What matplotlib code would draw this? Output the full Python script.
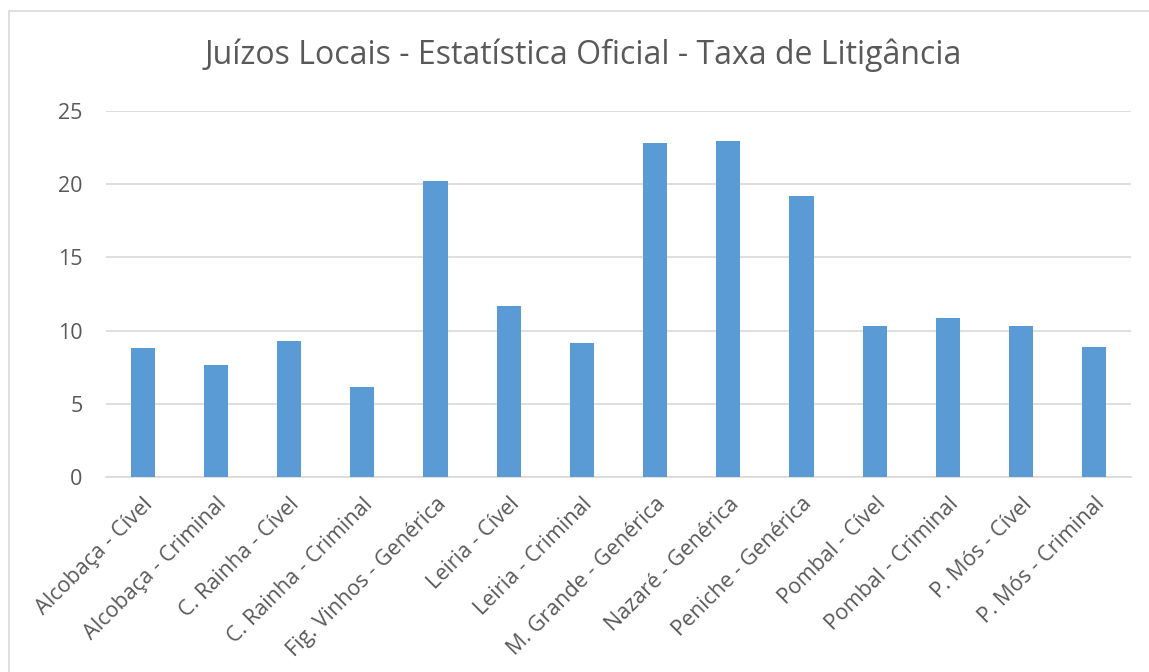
import matplotlib.pyplot as plt
from matplotlib.patches import Rectangle

categories = [
    "Alcobaça - Cível", "Alcobaça - Criminal", "C. Rainha - Cível",
    "C. Rainha - Criminal", "Fig. Vinhos - Genérica", "Leiria - Cível",
    "Leiria - Criminal", "M. Grande - Genérica", "Nazaré - Genérica",
    "Peniche - Genérica", "Pombal - Cível", "Pombal - Criminal",
    "P. Mós - Cível", "P. Mós - Criminal",
]
values = [8.80, 7.63, 9.30, 6.18, 20.24, 11.69, 9.16,
          22.83, 22.97, 19.21, 10.30, 10.87, 10.32, 8.91]
yticks = [0, 5, 10, 15, 20, 25]

title = "Juízos Locais - Estatística Oficial - Taxa de Litigância"

plt.rcParams['font.family'] = ['Open Sans', 'DejaVu Sans']

W, H = 1149, 672
fig = plt.figure(figsize=(W / 100, H / 100), dpi=100)
fig.patch.set_facecolor('white')

# outer chart border (runs off the right and bottom of the image)
fig.patches.append(Rectangle((9 / W, -0.1), 1.2, 1 - 11 / H + 0.1,
                             transform=fig.transFigure, fill=False,
                             edgecolor='#d9d9d9', linewidth=1.2))

left, right, top, bottom = 106, 1131, 111, 477
ax = fig.add_axes([left / W, 1 - bottom / H, (right - left) / W, (bottom - top) / H])

x = range(len(categories))
ax.bar(x, values, width=0.33, color='#5b9bd5', zorder=3)

ax.set_xlim(-0.5, len(categories) - 0.5)
ax.set_ylim(0, 25)
ax.set_yticks(yticks)
ax.yaxis.grid(True, color='#d9d9d9', linewidth=1.2, zorder=0)
ax.set_axisbelow(True)

for s in ['top', 'right', 'left']:
    ax.spines[s].set_visible(False)
ax.spines['bottom'].set_color('#d9d9d9')
ax.spines['bottom'].set_linewidth(1.2)

ax.tick_params(axis='both', length=0, labelsize=15.5, labelcolor='#595959')
ax.tick_params(axis='y', pad=17)
ax.tick_params(axis='x', pad=12)
ax.set_xticks(list(x))
ax.set_xticklabels(categories, rotation=45, ha='right', va='top',
                   rotation_mode='anchor')

fig.text(0.508, 1 - 55 / H, title, ha='center', va='center',
         fontsize=23, color='#595959')

fig.savefig('out.png', dpi=100)
